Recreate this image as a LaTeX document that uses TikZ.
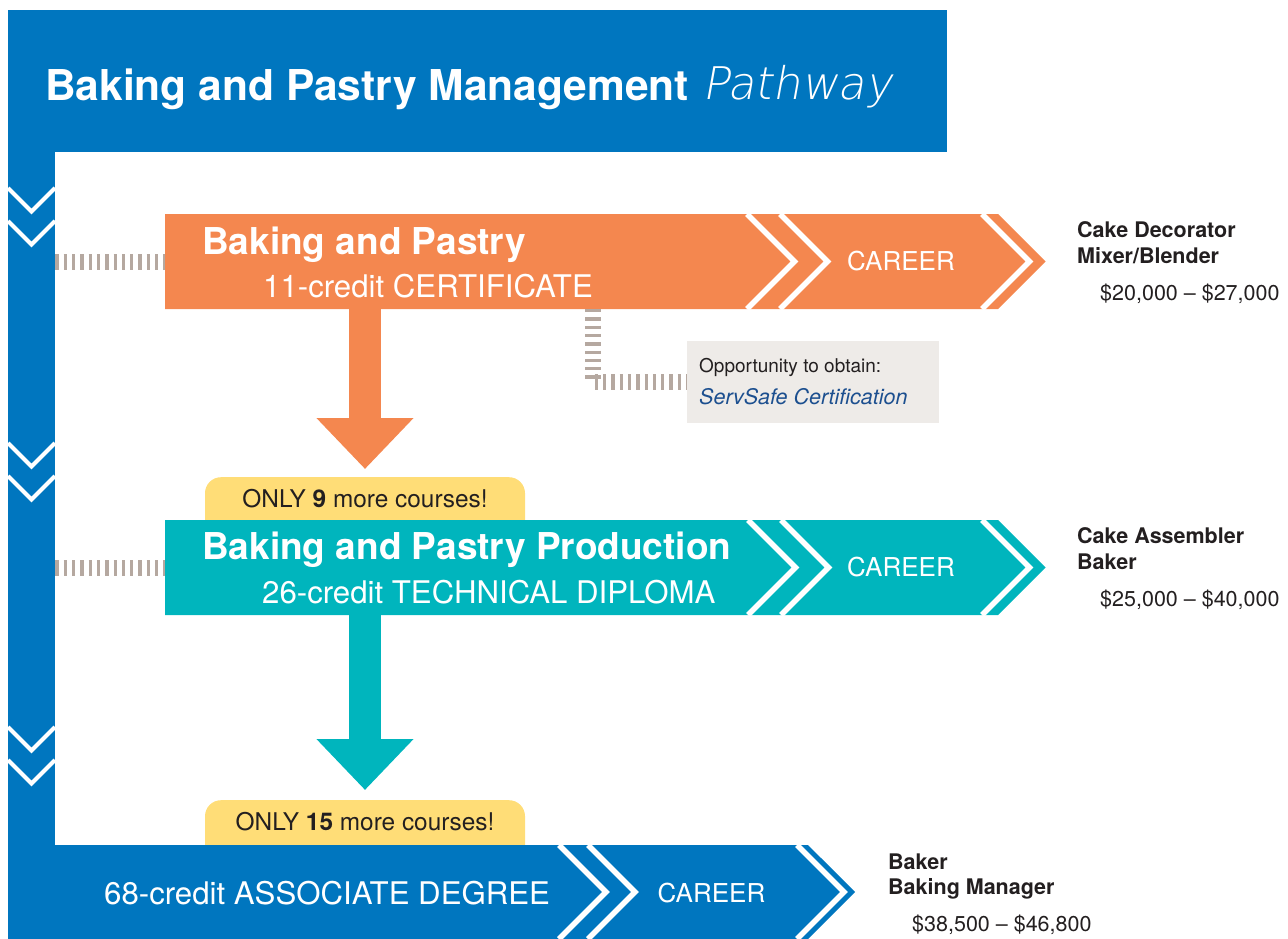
\documentclass[tikz,border=0pt]{standalone}
\usepackage{fontspec}
\setmainfont{TeX Gyre Heros}
\IfFontExistsTF{DejaVu Sans ExtraLight}
  {\newfontfamily\handfont[FakeSlant=0.18]{DejaVu Sans ExtraLight}}
  {\newfontfamily\handfont[FakeSlant=0.18]{DejaVu Sans}}
\usetikzlibrary{shapes.symbols,arrows.meta}
\definecolor{pathBlue}{RGB}{0,118,191}
\definecolor{certOrange}{RGB}{244,135,79}
\definecolor{diplomaTeal}{RGB}{0,181,189}
\definecolor{tagYellow}{RGB}{255,221,119}
\definecolor{dashGrey}{RGB}{181,168,160}
\definecolor{boxGrey}{RGB}{238,235,232}
\definecolor{servBlue}{RGB}{28,79,143}
\definecolor{inkDark}{RGB}{35,31,32}

\begin{document}
\begin{tikzpicture}[x=1pt,y=-1pt]
\tikzstyle{barStyle}=[signal, signal to=east, signal pointer angle=90, inner sep=0pt, outer sep=0pt, anchor=west]
\tikzstyle{chevronStyle}=[draw=white, line width=4pt, line join=miter]
\tikzstyle{barlineStyle}=[draw=white, line width=5.5pt, line join=miter]
\tikzstyle{dashStyle}=[draw=dashGrey, line width=16pt, dash pattern=on 3.3pt off 5pt]
\tikzstyle{tagStyle}=[fill=tagYellow, rounded corners=16pt, minimum width=320pt, inner sep=0pt, text height=30pt, text depth=40pt, anchor=north, font=\fontsize{24.4}{28}\selectfont, text=inkDark]
\tikzstyle{headStyle}=[anchor=base west, inner sep=0pt, text=white, font=\bfseries\fontsize{37}{42}\selectfont]
\tikzstyle{creditStyle}=[anchor=base west, inner sep=0pt, text=white, font=\fontsize{31.2}{35}\selectfont]
\tikzstyle{careerStyle}=[anchor=base, inner sep=0pt, text=white, font=\fontsize{26}{30}\selectfont]
\tikzstyle{jobStyle}=[anchor=base west, inner sep=0pt, text=inkDark, font=\bfseries\fontsize{21.5}{25}\selectfont]
\tikzstyle{payStyle}=[anchor=base west, inner sep=0pt, text=inkDark, font=\fontsize{21.5}{25}\selectfont]
\useasboundingbox (0,0) rectangle (1288,939);
\node[tagStyle] (tagone) at (365,477) {ONLY \textbf{9} more courses!};
\node[tagStyle] (tagtwo) at (365,800) {ONLY \textbf{15} more courses!};
\node[fill=pathBlue, minimum width=939pt, minimum height=142pt, inner sep=0pt, anchor=north west] (titlebar) at (8,10) {};
\node[fill=pathBlue, minimum width=47pt, minimum height=700pt, inner sep=0pt, anchor=north west] (spine) at (8,150) {};
\node[barStyle, fill=certOrange, minimum width=880.5pt, minimum height=95pt] (certbar) at (165,261.5) {};
\node[barStyle, fill=diplomaTeal, minimum width=880.5pt, minimum height=95pt] (diplomabar) at (165,567.5) {};
\node[barStyle, fill=pathBlue, minimum width=847pt, minimum height=94pt] (degreebar) at (8,892) {};
\draw[chevronStyle] (8,188) -- (31.5,211.5) -- (55,188);
\draw[chevronStyle] (8,221) -- (31.5,244.5) -- (55,221);
\draw[chevronStyle] (8,443) -- (31.5,466.5) -- (55,443);
\draw[chevronStyle] (8,476) -- (31.5,499.5) -- (55,476);
\draw[chevronStyle] (8,727) -- (31.5,750.5) -- (55,727);
\draw[chevronStyle] (8,760) -- (31.5,783.5) -- (55,760);
\draw[barlineStyle] (747,214) -- (794.5,261.5) -- (747,309);
\draw[barlineStyle] (780,214) -- (827.5,261.5) -- (780,309);
\draw[barlineStyle] (982,214) -- (1029.5,261.5) -- (982,309);
\draw[barlineStyle] (748,520) -- (795.5,567.5) -- (748,615);
\draw[barlineStyle] (781,520) -- (828.5,567.5) -- (781,615);
\draw[barlineStyle] (982,520) -- (1029.5,567.5) -- (982,615);
\draw[barlineStyle] (559,845) -- (606,892) -- (559,939);
\draw[barlineStyle] (588,845) -- (635,892) -- (588,939);
\draw[barlineStyle] (797,845) -- (844,892) -- (797,939);
\node[anchor=base west, inner sep=0pt, text=white, font=\bfseries\fontsize{42.5}{48}\selectfont] (title) at (45,101) {Baking and Pastry Management};
\node[anchor=base west, inner sep=0pt, text=white, font=\handfont\fontsize{45}{50}\selectfont] (pathway) at (702,100) {Pathway};
\node[headStyle] (certhead) at (202,254) {Baking and Pastry};
\node[creditStyle] (certcredit) at (263,297) {11-credit CERTIFICATE};
\node[careerStyle] (certcareer) at (901,270) {CAREER};
\node[headStyle] (diplomahead) at (202,559) {Baking and Pastry Production};
\node[creditStyle] (diplomacredit) at (262,603) {26-credit TECHNICAL DIPLOMA};
\node[careerStyle] (diplomacareer) at (901,576) {CAREER};
\node[creditStyle] (degreecredit) at (104,904) {68-credit ASSOCIATE DEGREE};
\node[careerStyle] (degreecareer) at (711.5,902) {CAREER};
\node[fill=boxGrey, minimum width=252pt, minimum height=82pt, inner sep=0pt] (servbox) at (813,382) {};
\node[anchor=base west, inner sep=0pt, text=inkDark, font=\fontsize{19}{22}\selectfont] (opptext) at (699,372) {Opportunity to obtain:};
\node[anchor=base west, inner sep=0pt, text=servBlue, font=\itshape\fontsize{21.5}{24}\selectfont] (servtext) at (699,404) {ServSafe Certification};
\coordinate (servdrop) at (593,309);
\draw[dashStyle] (spine.east |- certbar.west) -- (certbar.west);
\draw[dashStyle] (spine.east |- diplomabar.west) -- (diplomabar.west);
\draw[dashStyle] (servdrop) |- (servbox.west);
\draw[certOrange, line width=32pt, -{Triangle[width=94pt,length=51pt]}, shorten >=8pt] (certbar.south -| tagone.north) -- (tagone.north);
\draw[diplomaTeal, line width=32pt, -{Triangle[width=94pt,length=51pt]}, shorten >=10pt] (diplomabar.south -| tagtwo.north) -- (tagtwo.north);
\node[jobStyle] (certjobone) at (1077,237) {Cake Decorator};
\node[jobStyle] (certjobtwo) at (1077,263) {Mixer/Blender};
\node[payStyle] (certpay) at (1100,300) {\$20,000 -- \$27,000};
\node[jobStyle] (diplomajobone) at (1077,543) {Cake Assembler};
\node[jobStyle] (diplomajobtwo) at (1077,569) {Baker};
\node[payStyle] (diplomapay) at (1100,606) {\$25,000 -- \$40,000};
\node[jobStyle] (degreejobone) at (888,869) {Baker};
\node[jobStyle] (degreejobtwo) at (888,894) {Baking Manager};
\node[payStyle] (degreepay) at (912,931) {\$38,500 -- \$46,800};
\end{tikzpicture}
\end{document}
